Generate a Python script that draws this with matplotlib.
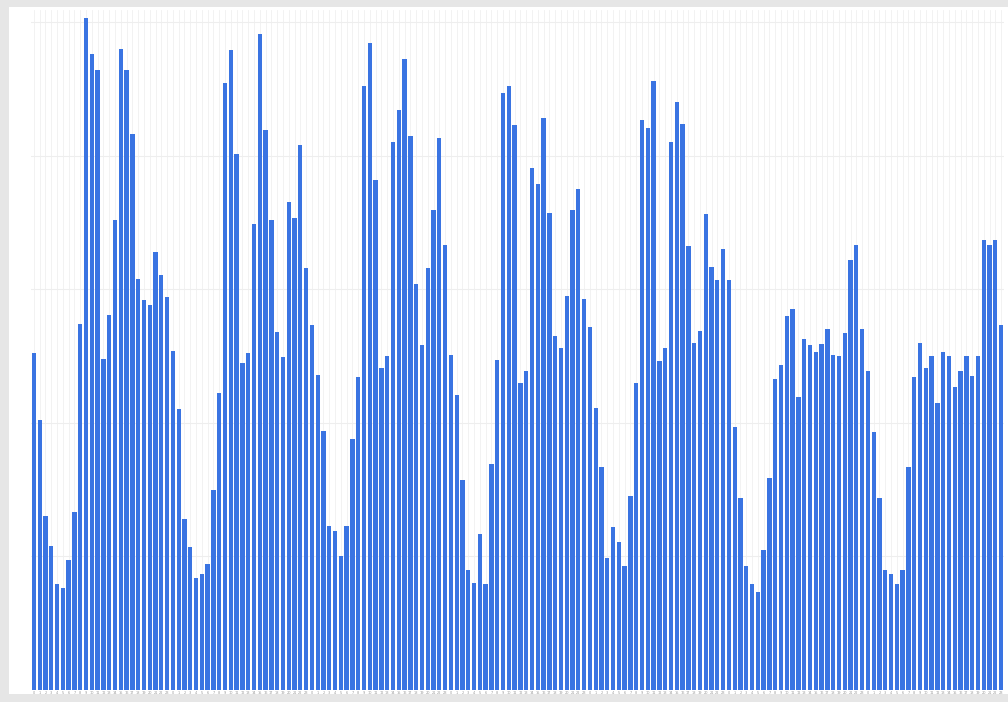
import matplotlib.pyplot as plt
import matplotlib.patches as mpatches
import numpy as np

# hourly values, 7 days x 24 hours
day1 = [252, 202, 130, 108, 79, 76, 97, 133, 274, 503, 476, 464,
        248, 281, 352, 480, 464, 416, 308, 292, 288, 328, 311, 294]
day2 = [254, 210, 128, 107, 84, 87, 94, 150, 222, 454, 479, 401,
        245, 252, 349, 491, 419, 352, 268, 249, 365, 353, 408, 316]
day3 = [273, 236, 194, 123, 119, 100, 123, 188, 234, 452, 484, 382,
        241, 250, 410, 434, 472, 415, 304, 258, 316, 359, 413, 333]
day4 = [251, 221, 157, 90, 80, 117, 79, 169, 247, 447, 452, 423,
        230, 239, 391, 379, 428, 357, 265, 256, 295, 359, 375, 293]
day5 = [272, 211, 167, 99, 122, 111, 93, 145, 230, 427, 421, 456,
        246, 256, 410, 440, 424, 332, 260, 269, 356, 317, 307, 330]
day6 = [307, 197, 144, 93, 79, 73, 105, 159, 233, 243, 280, 285,
        219, 263, 258, 253, 259, 270, 251, 250, 267, 322, 333, 270]
day7 = [239, 193, 144, 90, 87, 79, 90, 167, 234, 260, 241, 250,
        215, 253, 250, 227, 239, 250, 235, 250, 337, 333, 337, 273]
values = day1 + day2 + day3 + day4 + day5 + day6 + day7

hour_labels = [str(h) for h in range(24)] * 7
y_ticks = [0, 100, 200, 300, 400, 500]

fig = plt.figure(figsize=(10.08, 7.02), dpi=100)

# soft frame round the chart
fig.patches.append(mpatches.Rectangle((0.0, 0.0), 1.0, 1.0, transform=fig.transFigure,
                                      facecolor="#e6e6e6", edgecolor="none", zorder=-3))
fig.patches.append(mpatches.Rectangle((0.009, 0.012), 0.991, 0.978, transform=fig.transFigure,
                                      facecolor="white", edgecolor="none", zorder=-2))

ax = fig.add_axes([31 / 1008, 12 / 702, 973 / 1008, 680 / 702])
x = np.arange(len(values))
ax.bar(x, values, width=0.75, color="#3a74e2", zorder=2)

ax.set_xlim(-0.5, len(values) - 0.5)
ax.set_ylim(0, 509)
ax.set_yticks(y_ticks)
ax.set_yticklabels([])
ax.tick_params(axis="y", length=0)
ax.set_xticks(x)
ax.set_xticklabels(hour_labels, fontsize=2.5, color="#999999")
ax.tick_params(axis="x", length=0, pad=1)

ax.grid(axis="y", color="#eeeeee", linewidth=0.8, zorder=0)
ax.grid(axis="x", color="#f0f0f0", linewidth=0.6, zorder=0)
for s in ax.spines.values():
    s.set_visible(False)
ax.set_facecolor("white")

fig.savefig("out.png", dpi=100)
